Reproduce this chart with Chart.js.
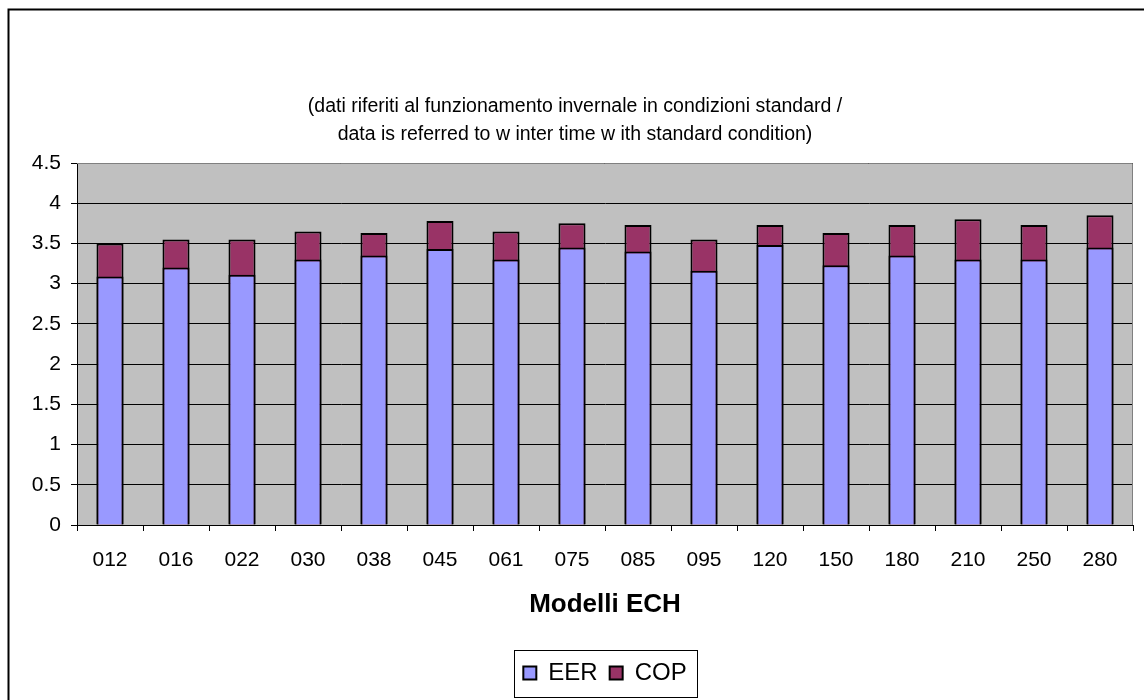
<!DOCTYPE html>
<html lang="it">
<head>
    <meta charset="UTF-8">
    <title>Modelli ECH - EER / COP</title>
    <style>
        html, body { margin: 0; padding: 0; background: white; overflow: hidden; }
        #wrap { width: 1144px; height: 700px; position: relative; }
    </style>
    <script src="https://cdn.jsdelivr.net/npm/chart.js"></script>
</head>
<body>
    <div id="wrap"><canvas id="echChart" width="1144" height="700"></canvas></div>

    <script>
        // Data
        const models = ['012', '016', '022', '030', '038', '045', '061', '075', '085', '095', '120', '150', '180', '210', '250', '280'];
        const eer = [3.09, 3.2, 3.11, 3.3, 3.35, 3.43, 3.3, 3.45, 3.4, 3.16, 3.48, 3.23, 3.35, 3.3, 3.3, 3.45];
        const cop = [3.5, 3.55, 3.55, 3.65, 3.63, 3.78, 3.65, 3.75, 3.73, 3.55, 3.73, 3.63, 3.73, 3.8, 3.73, 3.85];
        const titleLines = ['(dati riferiti al funzionamento invernale in condizioni standard /',
                            'data is referred to w inter time w ith standard condition)'];

        const FONT = "'Liberation Sans', Arial, sans-serif";

        // grey plot area, outer frame and legend box
        const excelLook = {
            id: 'excelLook',
            afterLayout(chart) {
                // centre the legend under the plot area, like the original
                const lg = chart.legend, a = chart.chartArea;
                const delta = ((a.left + a.right) - (lg.left + lg.right)) / 2;
                lg.left += delta;
                lg.right += delta;
                (lg.legendHitBoxes || []).forEach(b => { b.left += delta; });
            },
            beforeDraw(chart) {
                const { ctx, chartArea: a } = chart;
                ctx.save();
                ctx.fillStyle = '#c0c0c0';
                ctx.fillRect(a.left, a.top, a.right - a.left, a.bottom - a.top);
                ctx.strokeStyle = '#000';
                ctx.lineWidth = 2;
                ctx.strokeRect(8.5, 9.5, 1400, 900);
                ctx.restore();
            },
            afterDraw(chart) {
                const { ctx, chartArea: a, legend } = chart;
                ctx.save();
                ctx.strokeStyle = '#808080';
                ctx.lineWidth = 1;
                ctx.beginPath();
                ctx.moveTo(a.left, a.top + 0.5);
                ctx.lineTo(a.right - 0.5, a.top + 0.5);
                ctx.lineTo(a.right - 0.5, a.bottom);
                ctx.stroke();
                // box around the legend
                const boxes = legend.legendHitBoxes;
                if (boxes && boxes.length) {
                    const l = Math.min(...boxes.map(b => b.left)) - 9;
                    const r = Math.max(...boxes.map(b => b.left + b.width)) + 11;
                    const t = Math.min(...boxes.map(b => b.top)) - 11;
                    const btm = Math.max(...boxes.map(b => b.top + b.height)) + 12;
                    ctx.strokeStyle = '#000';
                    ctx.strokeRect(Math.round(l) + 0.5, Math.round(t) + 0.5, Math.round(r - l), Math.round(btm - t));
                }
                ctx.restore();
            }
        };

        new Chart(document.getElementById('echChart'), {
            type: 'bar',
            data: {
                labels: models,
                datasets: [
                    { label: 'EER', data: eer, backgroundColor: '#9999ff', borderColor: '#000', borderWidth: 2, grouped: false },
                    { label: 'COP', data: cop, backgroundColor: '#993366', borderColor: '#000', borderWidth: 2, grouped: false }
                ]
            },
            options: {
                responsive: false,
                animation: false,
                devicePixelRatio: 1,
                layout: { padding: { left: 17, right: 11, top: 9, bottom: 5 } },
                datasets: { bar: { barPercentage: 0.41, categoryPercentage: 1 } },
                scales: {
                    x: {
                        grid: { drawOnChartArea: false, offset: true, tickLength: 6, color: '#000' },
                        border: { color: '#000' },
                        ticks: { color: '#000', padding: 17, font: { family: FONT, size: 21 } },
                        title: { display: true, text: 'Modelli ECH', color: '#000', padding: { top: 17, bottom: 29 },
                                 font: { family: FONT, size: 26, weight: 'bold' } },
                        afterFit(scale) { scale.height = 124; }
                    },
                    y: {
                        min: 0, max: 4.5,
                        grid: { color: '#000', tickLength: 6 },
                        border: { color: '#000' },
                        ticks: { stepSize: 0.5, color: '#000', padding: 10, font: { family: FONT, size: 21 },
                                 callback: v => String(v) },
                        afterFit(scale) { scale.width = 60; }
                    }
                },
                plugins: {
                    title: { display: true, text: titleLines, color: '#000',
                             font: { family: FONT, size: 19.5, weight: 'normal', lineHeight: 28 / 19.5 },
                             padding: { top: 84, bottom: 14 } },
                    legend: { position: 'bottom',
                              labels: { color: '#000', boxWidth: 13, boxHeight: 13, padding: 12, font: { family: FONT, size: 24 } } },
                    tooltip: { enabled: false }
                }
            },
            plugins: [excelLook]
        });
    </script>
</body>
</html>
